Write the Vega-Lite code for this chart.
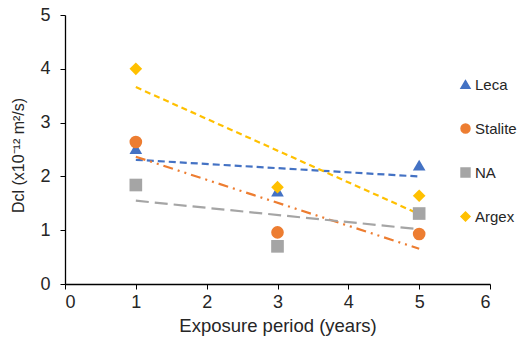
{
  "$schema": "https://vega.github.io/schema/vega-lite/v6.json",
  "autosize": {"type": "none"},
  "padding": {"left": 65, "top": 15, "right": 30, "bottom": 60},
  "width": 425,
  "height": 269,
  "background": "white",
  "config": {
    "view": {"stroke": null},
    "font": "Liberation Sans",
    "axis": {"grid": false, "domainColor": "#000000", "tickColor": "#000000", "labelColor": "#262626", "titleColor": "#262626", "labelFontSize": 18, "titleFontSize": 18.5, "titleFontWeight": "normal", "labelFont": "Liberation Sans", "titleFont": "Liberation Sans", "tickSize": 5, "domainWidth": 1.3},
    "legend": {"labelFont": "Liberation Sans", "labelFontSize": 15, "labelColor": "#262626"}
  },
  "data": {"values": [
    {"series": "Leca", "x": 1, "y": 2.52},
    {"series": "Leca", "x": 3, "y": 1.73},
    {"series": "Leca", "x": 5, "y": 2.21},
    {"series": "Stalite", "x": 1, "y": 2.64},
    {"series": "Stalite", "x": 3, "y": 0.96},
    {"series": "Stalite", "x": 5, "y": 0.93},
    {"series": "NA", "x": 1, "y": 1.84},
    {"series": "NA", "x": 3, "y": 0.7},
    {"series": "NA", "x": 5, "y": 1.31},
    {"series": "Argex", "x": 1, "y": 4.0},
    {"series": "Argex", "x": 3, "y": 1.8},
    {"series": "Argex", "x": 5, "y": 1.64}
  ]},
  "layer": [
    {
      "transform": [{"regression": "y", "on": "x", "groupby": ["series"], "extent": [1, 5]}],
      "mark": {"type": "line", "strokeWidth": 2.2},
      "encoding": {
        "x": {"field": "x", "type": "quantitative"},
        "y": {"field": "y", "type": "quantitative"},
        "detail": {"field": "series"},
        "color": {"field": "series", "type": "nominal", "scale": {"domain": ["Leca", "Stalite", "NA", "Argex"], "range": ["#4472C4", "#ED7D31", "#A5A5A5", "#FFC000"]}},
        "strokeDash": {"field": "series", "type": "nominal", "legend": null, "scale": {"domain": ["Leca", "Stalite", "NA", "Argex"], "range": [[7, 4], [10, 5, 2, 5, 2, 5], [13, 6], [6, 4]]}}
      }
    },
    {
      "mark": {"type": "point", "filled": true, "opacity": 1},
      "encoding": {
        "x": {"field": "x", "type": "quantitative", "title": "Exposure period (years)", "scale": {"domain": [0, 6]}, "axis": {"values": [0, 1, 2, 3, 4, 5, 6], "format": "d", "titlePadding": 5, "labelPadding": 4}},
        "y": {"field": "y", "type": "quantitative", "title": "Dcl (x10⁻¹² m²/s)", "scale": {"domain": [0, 5]}, "axis": {"values": [0, 1, 2, 3, 4, 5], "format": "d", "titlePadding": 13, "labelPadding": 10, "titleFontSize": 16, "titleY": 140}},
        "color": {"field": "series", "type": "nominal", "title": null, "scale": {"domain": ["Leca", "Stalite", "NA", "Argex"], "range": ["#4472C4", "#ED7D31", "#A5A5A5", "#FFC000"]}, "legend": {"orient": "none", "legendX": 393, "legendY": 62, "rowPadding": 28, "symbolSize": 80, "labelOffset": 2}},
        "shape": {"field": "series", "type": "nominal", "title": null, "scale": {"domain": ["Leca", "Stalite", "NA", "Argex"], "range": ["triangle-up", "circle", "square", "diamond"]}, "legend": {"orient": "none", "legendX": 393, "legendY": 62, "rowPadding": 28, "symbolSize": 80, "labelOffset": 2}},
        "size": {"value": 160}
      }
    }
  ],
  "resolve": {"scale": {"strokeDash": "independent"}}
}
